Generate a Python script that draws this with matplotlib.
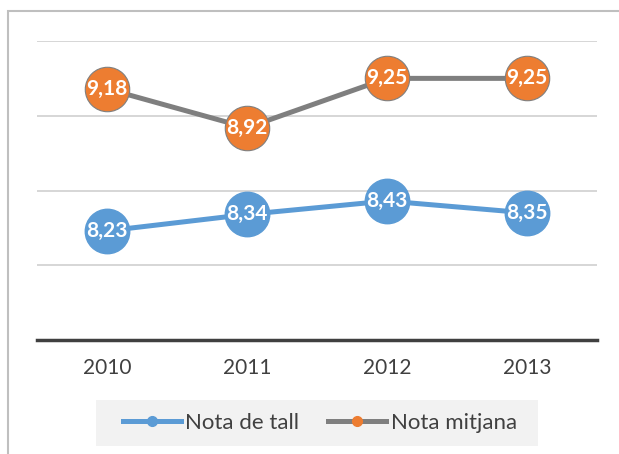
import matplotlib.pyplot as plt
from matplotlib.lines import Line2D
from matplotlib.patches import Rectangle

years = ["2010", "2011", "2012", "2013"]
nota_tall = [8.23, 8.34, 8.43, 8.35]
nota_mitjana = [9.18, 8.92, 9.25, 9.25]

BLUE = "#5b9bd5"
ORANGE = "#ed7d31"
GRAY = "#7f7f7f"

plt.rcParams['font.family'] = ['Lato', 'DejaVu Sans']

W, H = 619, 454
fig = plt.figure(figsize=(W / 100, H / 100), dpi=100)

# outer chart border (left and top visible, right/bottom run off the picture)
fig.add_artist(Rectangle((7.5 / W, -0.1), 1.2, 1.1 - 11.5 / H,
                         transform=fig.transFigure, fill=False,
                         edgecolor="#bfbfbf", linewidth=1.5))

ax = fig.add_axes([37 / W, 1 - 340 / H, (597 - 37) / W, (340 - 41) / H])
x = range(len(years))

ax.plot(x, nota_tall, color=BLUE, linewidth=3.6, marker="o", markersize=32,
        markerfacecolor=BLUE, markeredgecolor=BLUE, zorder=3)
ax.plot(x, nota_mitjana, color=GRAY, linewidth=3.6, marker="o", markersize=32,
        markerfacecolor=ORANGE, markeredgecolor=GRAY, markeredgewidth=0.8, zorder=3)

for xi, v in zip(x, nota_tall):
    ax.text(xi, v, f"{v:.2f}".replace(".", ","), ha="center", va="center",
            color="white", fontsize=15, fontweight="bold", zorder=4)
for xi, v in zip(x, nota_mitjana):
    ax.text(xi, v, f"{v:.2f}".replace(".", ","), ha="center", va="center",
            color="white", fontsize=15, fontweight="bold", zorder=4)

ax.set_xlim(-0.5, 3.5)
ax.set_ylim(7.5, 9.5)
ax.set_yticks([8.0, 8.5, 9.0, 9.5])
ax.yaxis.grid(True, color="#d0d0d0", linewidth=1.2)
ax.set_axisbelow(True)
ax.tick_params(axis="y", left=False, labelleft=False)
ax.set_xticks(list(x))
ax.set_xticklabels(years, fontsize=15, color="#404040")
ax.tick_params(axis="x", length=0, pad=13)
for s in ["top", "right", "left"]:
    ax.spines[s].set_visible(False)
ax.spines["bottom"].set_color("#404040")
ax.spines["bottom"].set_linewidth(2.5)

# legend background
fig.add_artist(Rectangle((96 / W, 1 - 446 / H), (538 - 96) / W, 46 / H,
                         transform=fig.transFigure, facecolor="#f2f2f2",
                         edgecolor="none"))
handles = [
    Line2D([], [], color=BLUE, linewidth=3.6, marker="o", markersize=7,
           markerfacecolor=BLUE, markeredgecolor=BLUE),
    Line2D([], [], color=GRAY, linewidth=3.6, marker="o", markersize=7,
           markerfacecolor=ORANGE, markeredgecolor=ORANGE),
]
fig.legend(handles, ["Nota de tall", "Nota mitjana"], loc="center",
           bbox_to_anchor=(320 / W, 1 - 423 / H), ncol=2, frameon=False,
           fontsize=16, handlelength=2.6, handletextpad=0.2,
           columnspacing=1.3, labelcolor="#404040")

fig.savefig("out.png", dpi=100)
